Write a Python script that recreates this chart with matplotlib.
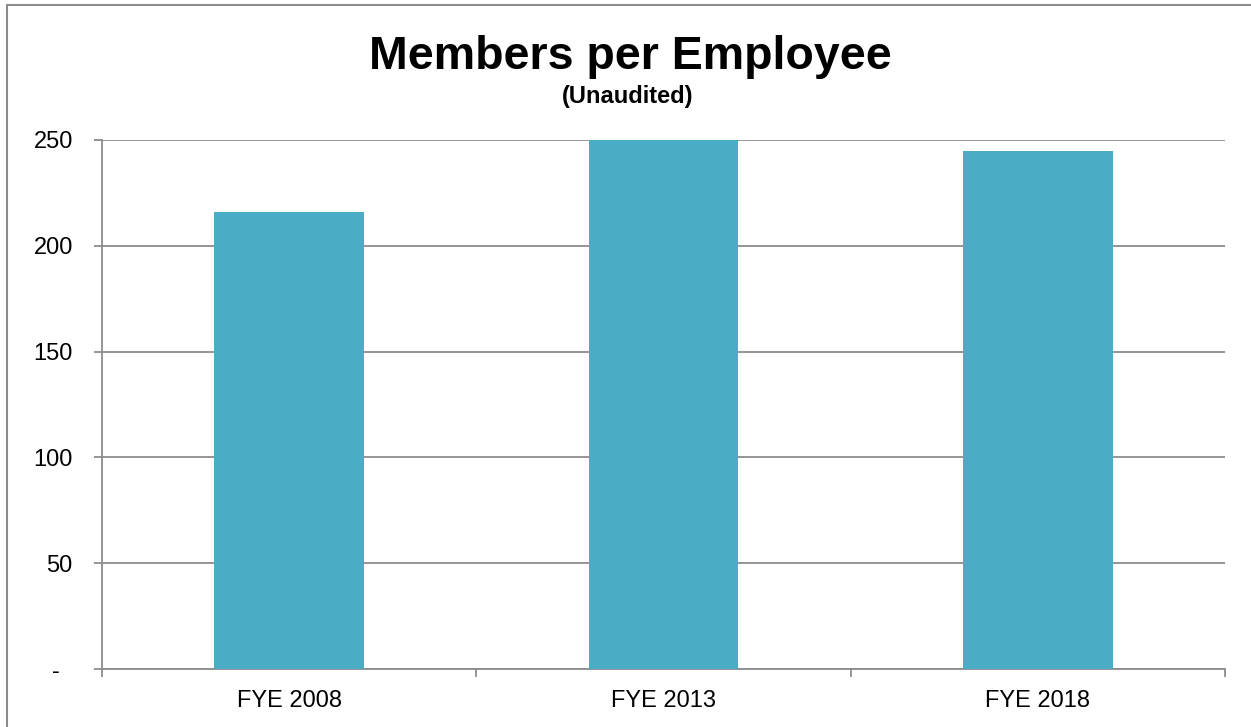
import matplotlib
matplotlib.use("Agg")
import matplotlib.pyplot as plt
from matplotlib.patches import Rectangle
from matplotlib.ticker import FixedLocator

categories = ["FYE 2008", "FYE 2013", "FYE 2018"]
values = [216, 250, 245]
yticks = [0, 50, 100, 150, 200, 250]
ytick_labels = ["-  ", "50", "100", "150", "200", "250"]

W, H = 1251, 727
fig = plt.figure(figsize=(W / 100, H / 100), dpi=100)
plt.rcParams['font.family'] = ['Liberation Sans', 'DejaVu Sans']

ax = fig.add_axes([102 / W, 1 - 669 / H, (1225 - 102) / W, (669 - 140) / H])

grey = "#8c8c8c"
centers = [i + 0.5 for i in range(len(categories))]
ax.bar(centers, values, width=0.4, color="#4BACC6", zorder=3)

ax.set_xlim(0, len(categories))
ax.set_ylim(0, 250)
ax.set_yticks(yticks)
ax.set_yticklabels(ytick_labels, fontsize=17)
ax.yaxis.grid(True, color=grey, linewidth=1.3, zorder=1)
ax.set_axisbelow(True)

ax.xaxis.set_major_locator(FixedLocator(centers))
ax.set_xticklabels(categories, fontsize=17)
ax.xaxis.set_minor_locator(FixedLocator(list(range(len(categories) + 1))))
ax.tick_params(axis='x', which='major', length=0, pad=15)
ax.tick_params(axis='x', which='minor', length=6, width=1.3, color=grey, direction='out')
ax.tick_params(axis='y', which='major', length=6, width=1.3, color=grey, pad=15)

for s in ['top', 'right']:
    ax.spines[s].set_visible(False)
for s in ['left', 'bottom']:
    ax.spines[s].set_color(grey)
    ax.spines[s].set_linewidth(1.3)

fig.text(630 / W, 1 - 69 / H, "Members per Employee", fontsize=33.5, fontweight='bold',
         ha='center', va='baseline')
fig.text(628 / W, 1 - 103 / H, "(Unaudited)", fontsize=17, fontweight='bold',
         ha='center', va='baseline')

fig.patches.append(Rectangle((6.5 / W, -0.1), 1.2, 1 - 4.5 / H + 0.1,
                             transform=fig.transFigure, fill=False,
                             edgecolor=grey, linewidth=1.5))

fig.savefig("out.png", dpi=100)
